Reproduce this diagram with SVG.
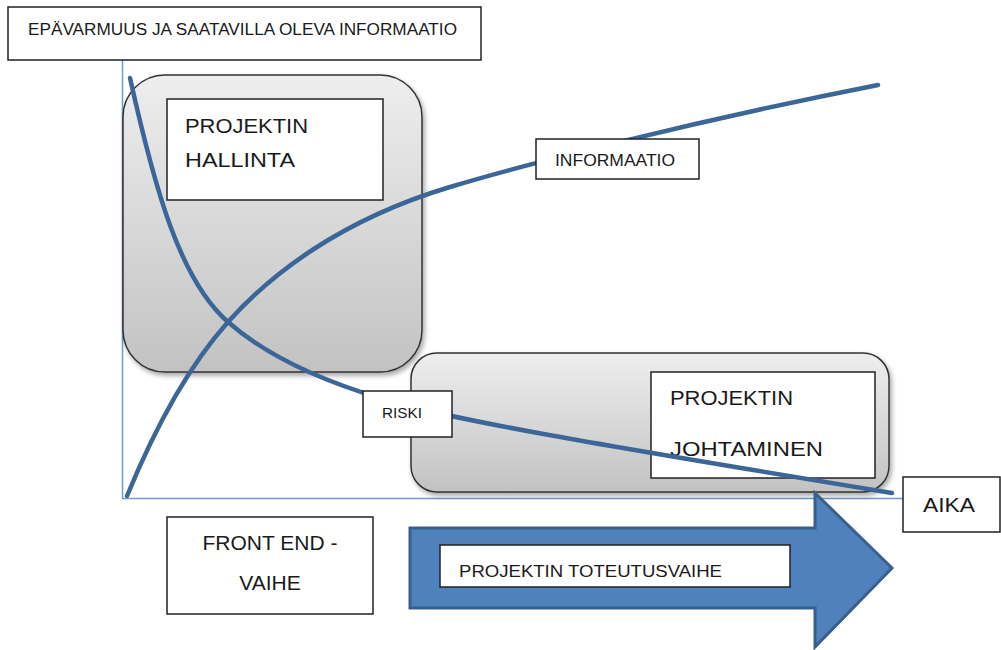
<svg xmlns="http://www.w3.org/2000/svg" width="1001" height="650" viewBox="0 0 1001 650">
  <defs>
    <linearGradient id="panelFill" x1="0" y1="0" x2="0" y2="1">
      <stop offset="0" stop-color="#eeeeee"/>
      <stop offset="0.85" stop-color="#c9c9c9"/>
      <stop offset="1" stop-color="#c2c2c2"/>
    </linearGradient>
    <filter id="softShadow" x="-10%" y="-10%" width="125%" height="125%">
      <feDropShadow dx="2" dy="3" stdDeviation="2.5" flood-color="#000" flood-opacity="0.35"/>
    </filter>
  </defs>
  <style>
    .label { fill: #ffffff; stroke: #222222; stroke-width: 1.5; }
    .panel { fill: url(#panelFill); stroke: #333333; stroke-width: 1.5; filter: url(#softShadow); }
    .axis { fill: none; stroke: #6f9bd2; stroke-width: 1.5; }
    .curve { fill: none; stroke: #3b6697; stroke-width: 4.5; stroke-linecap: round; }
    .txt { font-family: "Liberation Sans", Arial, sans-serif; fill: #1a1a1a; }
  </style>

  <rect width="1001" height="650" fill="#ffffff"/>

  <!-- axes -->
  <g id="axes">
    <line class="axis" x1="122.5" y1="60" x2="122.5" y2="498.5"/>
    <line class="axis" x1="122" y1="498.5" x2="905" y2="498.5"/>
  </g>

  <!-- phase panels -->
  <g id="panel-hallinta">
    <rect class="panel" x="123" y="75" width="299" height="297" rx="42"/>
  </g>
  <g id="panel-johtaminen">
    <rect class="panel" x="411" y="353" width="478" height="139" rx="26"/>
  </g>

  <!-- inner text boxes that sit under the curves -->
  <g id="box-hallinta">
    <rect class="label" x="167" y="99" width="216" height="101"/>
    <text class="txt" x="185" y="133" font-size="21" textLength="123" lengthAdjust="spacingAndGlyphs">PROJEKTIN</text>
    <text class="txt" x="185" y="167" font-size="21" textLength="110" lengthAdjust="spacingAndGlyphs">HALLINTA</text>
  </g>
  <g id="box-johtaminen">
    <rect class="label" x="651" y="372" width="224" height="106"/>
    <text class="txt" x="670" y="405" font-size="21" textLength="123" lengthAdjust="spacingAndGlyphs">PROJEKTIN</text>
    <text class="txt" x="670" y="456" font-size="21" textLength="153" lengthAdjust="spacingAndGlyphs">JOHTAMINEN</text>
  </g>

  <!-- curves -->
  <g id="connectors">
    <path class="curve" d="M130,78 C155,190 180,280 228,322 C268,357 320,380 380,398 C440,418 600,445 892,493"/>
    <path class="curve" d="M127,496 C150,440 185,370 228,322 C270,275 340,220 450,187 C530,163 700,120 878,85"/>
  </g>

  <!-- title box -->
  <g id="title">
    <rect class="label" x="8" y="7" width="473" height="53"/>
    <text class="txt" x="28" y="35" font-size="16" textLength="429" lengthAdjust="spacingAndGlyphs">EPÄVARMUUS JA SAATAVILLA OLEVA INFORMAATIO</text>
  </g>

  <!-- curve labels -->
  <g id="label-informaatio">
    <rect class="label" x="536" y="139" width="163" height="40"/>
    <text class="txt" x="555" y="166" font-size="16" textLength="120" lengthAdjust="spacingAndGlyphs">INFORMAATIO</text>
  </g>
  <g id="label-riski">
    <rect class="label" x="363" y="391" width="89" height="46"/>
    <text class="txt" x="382" y="418" font-size="15" textLength="40" lengthAdjust="spacingAndGlyphs">RISKI</text>
  </g>

  <!-- time axis label -->
  <g id="label-aika">
    <rect class="label" x="903" y="477" width="97" height="55"/>
    <text class="txt" x="923" y="512" font-size="21" textLength="52" lengthAdjust="spacingAndGlyphs">AIKA</text>
  </g>

  <!-- front end phase -->
  <g id="front-end">
    <rect class="label" x="167" y="517" width="206" height="97"/>
    <text class="txt" x="270" y="550" font-size="21" text-anchor="middle">FRONT END -</text>
    <text class="txt" x="270" y="590" font-size="21" text-anchor="middle">VAIHE</text>
  </g>

  <!-- implementation phase arrow -->
  <g id="toteutus-arrow">
    <polygon points="410,528 815,528 815,493 892,568 815,647 815,608 410,608" fill="#4f81bd" stroke="#3a5f8c" stroke-width="3" stroke-linejoin="miter"/>
    <rect class="label" x="440" y="545" width="350" height="42"/>
    <text class="txt" x="459" y="577" font-size="16" textLength="263" lengthAdjust="spacingAndGlyphs">PROJEKTIN TOTEUTUSVAIHE</text>
  </g>
</svg>
